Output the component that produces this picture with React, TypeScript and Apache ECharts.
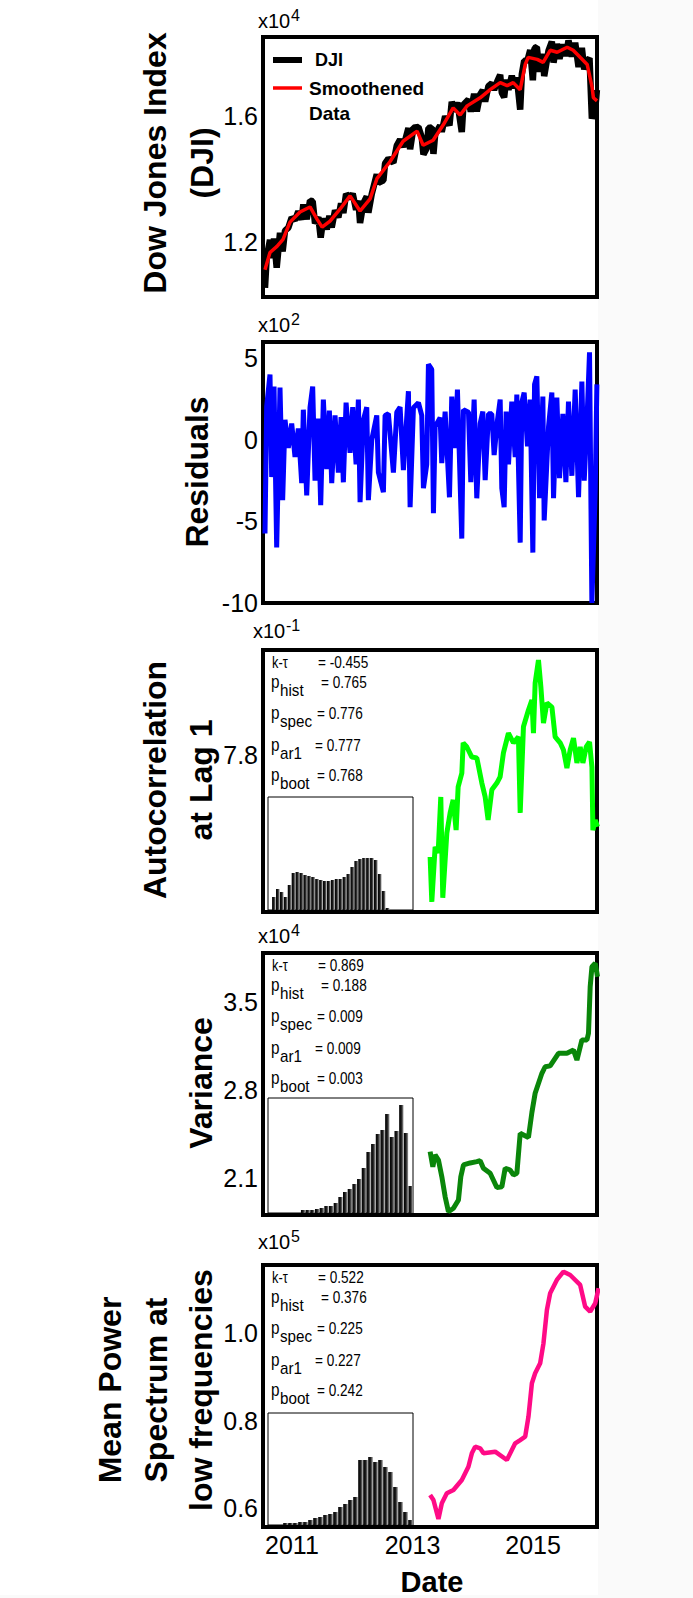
import React, { useEffect, useRef } from "react";
import * as echarts from "echarts";

const FONT = "'Liberation Sans', Arial, Helvetica, sans-serif";
const X_MIN = 2010.52;
const X_MAX = 2016.06;
const yearTicks = [2011, 2013, 2015];

// Panel 1 / 2: DJI, smoothed data and residuals (fractional years)
const dates = [2010.553, 2010.581, 2010.636, 2010.664, 2010.703, 2010.747, 2010.802, 2010.846, 2010.885, 2010.94, 2010.996, 2011.051, 2011.106, 2011.162, 2011.189, 2011.245, 2011.30, 2011.344, 2011.383, 2011.438, 2011.477, 2011.521, 2011.577, 2011.621, 2011.66, 2011.715, 2011.77, 2011.815, 2011.853, 2011.898, 2011.964, 2012.008, 2012.064, 2012.102, 2012.13, 2012.185, 2012.241, 2012.268, 2012.324, 2012.407, 2012.434, 2012.517, 2012.545, 2012.60, 2012.683, 2012.739, 2012.794, 2012.849, 2012.932, 2012.96, 2013.015, 2013.098, 2013.153, 2013.181, 2013.236, 2013.264, 2013.319, 2013.347, 2013.375, 2013.458, 2013.485, 2013.541, 2013.613, 2013.651, 2013.707, 2013.745, 2013.817, 2013.845, 2013.928, 2013.967, 2014.022, 2014.066, 2014.122, 2014.166, 2014.205, 2014.26, 2014.315, 2014.354, 2014.409, 2014.454, 2014.481, 2014.52, 2014.553, 2014.592, 2014.647, 2014.703, 2014.73, 2014.786, 2014.813, 2014.852, 2014.907, 2014.952, 2014.996, 2015.024, 2015.062, 2015.107, 2015.162, 2015.184, 2015.256, 2015.311, 2015.339, 2015.394, 2015.438, 2015.494, 2015.544, 2015.587, 2015.643, 2015.698, 2015.754, 2015.809, 2015.848, 2015.892, 2015.936, 2015.975, 2016.031, 2016.058];

const djiValues = [10560, 11520, 12080, 11500, 12120, 11200, 12300, 11710, 12370, 12460, 12790, 12700, 12980, 12720, 13200, 12730, 13320, 13300, 12600, 12800, 12150, 12760, 12410, 12840, 12470, 13010, 12790, 13230, 12930, 13530, 13390, 13545, 13030, 13320, 12610, 13240, 13450, 12940, 13530, 14150, 13880, 13960, 14500, 14650, 14520, 15060, 15250, 15020, 15620, 14950, 15630, 15650, 15325, 14780, 14980, 15620, 15640, 14800, 15410, 15700, 15500, 15990, 15700, 16445, 16140, 16430, 15495, 16355, 16520, 16140, 16700, 16150, 16680, 16820, 16460, 16950, 17030, 16830, 17115, 17300, 16735, 16590, 17150, 16830, 17270, 16885, 17220, 16200, 17320, 17750, 17760, 18090, 17130, 18150, 18180, 17400, 17965, 17260, 18070, 18355, 17690, 18280, 17815, 18265, 17900, 18390, 17880, 18320, 17550, 18160, 17475, 17745, 17830, 15920, 16230, 16825];

const residualValues = [-574, 204, 400, -228, 327, -660, 321, -370, 123, -50, 100, -105, 70, -265, 185, -340, 200, 327, -250, 130, -400, 247, -180, 180, -265, 150, -200, 140, -260, 228, -80, 200, -150, 247, -382, 123, 200, -370, 0, 150, -200, -321, 150, 160, -200, 170, 200, -185, 298, -413, 197, 228, 150, -296, -150, 463, 432, -450, 80, 136, -142, 173, -352, 265, -50, 308, -605, 185, 170, -259, 247, -358, 100, 173, -247, 160, 160, -93, 120, 247, -296, -413, 173, -150, 235, -105, 278, -630, 230, 290, -40, 247, -691, 340, 389, -358, 265, -494, 80, 290, -358, 259, -235, 160, -259, 235, -220, 308, -352, 358, -250, 100, 537, -1000, -300, 340];

const smoothYears = [2010.553, 2010.636, 2010.752, 2010.852, 2010.968, 2011.134, 2011.30, 2011.416, 2011.50, 2011.632, 2011.80, 2011.964, 2012.13, 2012.296, 2012.41, 2012.628, 2012.844, 2013.076, 2013.176, 2013.342, 2013.508, 2013.674, 2013.79, 2013.906, 2014.122, 2014.288, 2014.454, 2014.57, 2014.67, 2014.786, 2014.87, 2014.918, 2015.068, 2015.167, 2015.283, 2015.40, 2015.566, 2015.665, 2015.78, 2015.897, 2015.98, 2016.0, 2016.06];
const smoothValues = [11136, 11680, 11872, 12096, 12640, 12960, 13120, 12736, 12480, 12672, 13056, 13472, 12992, 13376, 14016, 14560, 15200, 15520, 15072, 15232, 15712, 16256, 16032, 16320, 16576, 16832, 17056, 16960, 17056, 16832, 17632, 17856, 17792, 17696, 18080, 18016, 18176, 18080, 17856, 17632, 16896, 16576, 16480];

// Panel 3: autocorrelation at lag 1
const acYears = [2013.292, 2013.32, 2013.375, 2013.425, 2013.469, 2013.502, 2013.569, 2013.624, 2013.674, 2013.723, 2013.757, 2013.818, 2013.84, 2013.901, 2013.984, 2014.067, 2014.15, 2014.205, 2014.254, 2014.316, 2014.399, 2014.453, 2014.508, 2014.591, 2014.674, 2014.757, 2014.786, 2014.84, 2014.923, 2014.98, 2015.006, 2015.034, 2015.089, 2015.129, 2015.172, 2015.229, 2015.312, 2015.366, 2015.449, 2015.504, 2015.561, 2015.615, 2015.67, 2015.727, 2015.781, 2015.826, 2015.881, 2015.936, 2015.976, 2015.992, 2016.031, 2016.069];
const acValues = [0.7557, 0.745, 0.7581, 0.7567, 0.770, 0.746, 0.7614, 0.7662, 0.7693, 0.7621, 0.7724, 0.7757, 0.7829, 0.7819, 0.7795, 0.7793, 0.7733, 0.770, 0.7645, 0.7717, 0.7733, 0.7748, 0.7805, 0.7852, 0.7829, 0.7843, 0.7662, 0.7867, 0.7907, 0.7931, 0.7852, 0.7971, 0.8026, 0.7962, 0.7876, 0.7924, 0.7914, 0.7843, 0.7829, 0.7812, 0.7769, 0.7812, 0.784, 0.7781, 0.7819, 0.7781, 0.7819, 0.7831, 0.7771, 0.7621, 0.7645, 0.7629];

// Panel 4: variance
const varYears = [2013.292, 2013.337, 2013.375, 2013.43, 2013.486, 2013.541, 2013.596, 2013.679, 2013.762, 2013.801, 2013.845, 2013.956, 2014.067, 2014.122, 2014.176, 2014.288, 2014.399, 2014.482, 2014.537, 2014.62, 2014.674, 2014.731, 2014.786, 2014.923, 2014.98, 2015.034, 2015.146, 2015.2, 2015.283, 2015.421, 2015.561, 2015.67, 2015.727, 2015.81, 2015.893, 2015.919, 2015.947, 2015.976, 2016.031, 2016.069];
const varValues = [23120, 21930, 22860, 22460, 21140, 19560, 18370, 18640, 19300, 21140, 22070, 22230, 22330, 22410, 21810, 21410, 20290, 20350, 21810, 21670, 21280, 21410, 24570, 24240, 26220, 27740, 29320, 29840, 29910, 30900, 30900, 31160, 30370, 31960, 31960, 32490, 36170, 37750, 38020, 36960];

// Panel 5: mean power spectrum at low frequencies
const psYears = [2013.292, 2013.347, 2013.43, 2013.486, 2013.569, 2013.679, 2013.818, 2013.927, 2013.984, 2014.039, 2014.122, 2014.177, 2014.371, 2014.565, 2014.703, 2014.786, 2014.869, 2014.923, 2014.98, 2015.034, 2015.117, 2015.172, 2015.229, 2015.283, 2015.394, 2015.504, 2015.615, 2015.781, 2015.864, 2015.947, 2016.031, 2016.086];
const psValues = [62970, 61830, 57480, 61070, 63360, 64110, 66400, 69440, 72500, 74010, 73640, 72500, 72870, 70970, 74790, 75540, 76300, 80870, 88500, 90790, 93080, 97650, 105260, 109080, 112120, 114020, 113260, 110980, 106010, 104870, 106790, 110220];

// Inset histograms (bin counts)
const acHist = [0, 13, 21, 18, 13, 25, 37, 38, 37, 35, 34, 33, 31, 30, 29, 29, 30, 31, 31, 33, 36, 43, 49, 51, 52, 52, 52, 50, 36, 19, 2, 0, 0, 0, 0, 0, 0];
const varHist = [0, 0, 0, 0, 0, 0, 0, 3, 3, 3, 4, 5, 7, 7, 10, 16, 21, 24, 29, 34, 45, 61, 69, 79, 83, 99, 76, 82, 108, 80, 27];
const psHist = [0, 0, 0, 2, 2, 2, 3, 3, 5, 7, 8, 10, 11, 13, 18, 21, 25, 28, 65, 65, 68, 63, 65, 58, 53, 38, 23, 13, 5];

// Statistics text
const statNames = ["hist", "spec", "ar1", "boot"];
const acStats = ["-0.455", "0.765", "0.776", "0.777", "0.768"];
const varStats = ["0.869", "0.188", "0.009", "0.009", "0.003"];
const psStats = ["0.522", "0.376", "0.225", "0.227", "0.242"];

const panels = [
  { top: 37, height: 260 },
  { top: 342, height: 261 },
  { top: 650, height: 262 },
  { top: 953, height: 262 },
  { top: 1265, height: 262 },
];
const insets = [
  { top: 797, height: 113, max: 113 },
  { top: 1098, height: 115, max: 115 },
  { top: 1413, height: 112, max: 112 },
];

const yConf = [
  { min: 10270, max: 18500, ticks: [12000, 16000], fmt: (v: number) => (v / 10000).toFixed(1) },
  { min: -1000, max: 600, ticks: [-1000, -500, 0, 500], fmt: (v: number) => String(Math.round(v / 100)) },
  { min: 0.7426, max: 0.805, ticks: [0.78], fmt: (v: number) => (v * 10).toFixed(1) },
  { min: 18110, max: 38840, ticks: [21000, 28000, 35000], fmt: (v: number) => (v / 10000).toFixed(1) },
  { min: 55660, max: 115540, ticks: [60000, 80000, 100000], fmt: (v: number) => (v / 100000).toFixed(1) },
];

const pairs = (xs: number[], ys: number[]) => xs.map((x, i) => [x, ys[i]]);

function txt(x: number, y: number, text: string, size: number, extra: any = {}, el: any = {}) {
  return {
    type: "text",
    x,
    y,
    z: 100,
    ...el,
    style: {
      text,
      fontSize: size,
      fontFamily: FONT,
      fill: "#000",
      textAlign: "left",
      textVerticalAlign: "middle",
      ...extra,
    },
  };
}

function statBlock(T: number, vals: string[]) {
  const sx = { scaleX: 0.8 };
  const eqX = [318, 321, 317, 315, 317];
  const offs = [12, 32, 63, 95, 125];
  const out: any[] = [];
  out.push(txt(272, T + offs[0], "k-τ", 16, {}, sx));
  out.push(txt(eqX[0], T + offs[0], "= " + vals[0], 17, {}, sx));
  for (let i = 0; i < 4; i++) {
    const y = T + offs[i + 1];
    out.push(txt(271, y, "p", 18, {}, { scaleX: 0.85 }));
    out.push(txt(280, y + 8, statNames[i], 16, {}, { scaleX: 0.95 }));
    out.push(txt(eqX[i + 1], y, "= " + vals[i + 1], 17, {}, sx));
  }
  return out;
}

function expLabel(x: number, y: number, exp: string) {
  return [txt(x, y, "x10", 20), txt(x + 33, y - 6, exp, 16)];
}

function title(x: number, y: number, text: string, lh: number) {
  return {
    type: "text",
    x,
    y,
    z: 100,
    rotation: Math.PI / 2,
    style: {
      text,
      fontSize: 32,
      fontWeight: "bold",
      fontFamily: FONT,
      fill: "#000",
      textAlign: "center",
      textVerticalAlign: "middle",
      lineHeight: lh,
    },
  };
}

function buildOption() {
  const grid: any[] = [];
  const xAxis: any[] = [];
  const yAxis: any[] = [];
  panels.forEach((p, i) => {
    grid.push({ left: 263, width: 334, top: p.top, height: p.height, show: true, borderColor: "#000", borderWidth: 4, backgroundColor: "#fff" });
    xAxis.push({
      type: "value",
      gridIndex: i,
      min: X_MIN,
      max: X_MAX,
      axisLine: { show: false },
      axisTick: { show: false },
      splitLine: { show: false },
      axisLabel:
        i === 4
          ? {
              show: true,
              customValues: yearTicks,
              formatter: (v: number) => (yearTicks.includes(Math.round(v * 1000) / 1000) ? String(Math.round(v)) : ""),
              fontSize: 25,
              fontFamily: FONT,
              color: "#000",
              margin: 5,
            }
          : { show: false },
    });
    const yc = yConf[i];
    yAxis.push({
      type: "value",
      gridIndex: i,
      min: yc.min,
      max: yc.max,
      axisLine: { show: false },
      axisTick: { show: false },
      splitLine: { show: false },
      axisLabel: {
        show: true,
        customValues: yc.ticks,
        formatter: (v: number) => (yc.ticks.some((t) => Math.abs(t - v) < 1e-9) ? yc.fmt(v) : ""),
        fontSize: 25,
        fontFamily: FONT,
        color: "#000",
        margin: 5,
      },
    });
  });
  const hists = [acHist, varHist, psHist];
  insets.forEach((p, k) => {
    const gi = 5 + k;
    grid.push({ left: 268, width: 145, top: p.top, height: p.height, show: true, borderColor: "#000", borderWidth: 1, backgroundColor: "#fff" });
    xAxis.push({ type: "category", gridIndex: gi, data: hists[k].map((_, j) => j), show: false });
    yAxis.push({ type: "value", gridIndex: gi, min: 0, max: p.max, show: false });
  });

  const barColor = new echarts.graphic.LinearGradient(0, 0, 1, 0, [
    { offset: 0, color: "#000" },
    { offset: 0.5, color: "#1c1c1c" },
    { offset: 1, color: "#9a9a9a" },
  ]);

  const lineBase = { type: "line", showSymbol: false, symbol: "none", smooth: false };
  const series: any[] = [
    { ...lineBase, name: "DJI", xAxisIndex: 0, yAxisIndex: 0, data: pairs(dates, djiValues), lineStyle: { color: "#000", width: 6.5 }, z: 2 },
    { ...lineBase, name: "Smoothened Data", xAxisIndex: 0, yAxisIndex: 0, data: pairs(smoothYears, smoothValues), lineStyle: { color: "#ff0000", width: 3.5 }, z: 3 },
    { ...lineBase, name: "Residuals", xAxisIndex: 1, yAxisIndex: 1, data: pairs(dates, residualValues), lineStyle: { color: "#0000ff", width: 5 } },
    { ...lineBase, name: "Autocorrelation", xAxisIndex: 2, yAxisIndex: 2, data: pairs(acYears, acValues), lineStyle: { color: "#00ff00", width: 5 } },
    { ...lineBase, name: "Variance", xAxisIndex: 3, yAxisIndex: 3, data: pairs(varYears, varValues), lineStyle: { color: "#0a860a", width: 5 } },
    { ...lineBase, name: "Power", xAxisIndex: 4, yAxisIndex: 4, data: pairs(psYears, psValues), lineStyle: { color: "#ff0a86", width: 4.5 } },
  ];
  hists.forEach((h, k) => {
    series.push({
      type: "bar",
      xAxisIndex: 5 + k,
      yAxisIndex: 5 + k,
      data: h,
      barCategoryGap: "8%",
      itemStyle: { color: barColor },
      z: 5,
    });
  });

  const graphic: any[] = [
    // y-axis titles
    title(178.5, 163, "Dow Jones Index\n(DJI)", 47),
    title(197, 472, "Residuals", 40),
    title(178, 780, "Autocorrelation\nat Lag 1", 46),
    title(201, 1083, "Variance", 40),
    title(155.5, 1390, "Mean Power\nSpectrum at\nlow frequencies", 45.5),
    // x-axis title
    txt(432, 1582, "Date", 29, { fontWeight: "bold", textAlign: "center" }),
    // exponents
    ...expLabel(258, 21, "4"),
    ...expLabel(258, 325, "2"),
    ...expLabel(253, 631, "-1"),
    ...expLabel(258, 936, "4"),
    ...expLabel(258, 1242, "5"),
    // legend
    { type: "line", z: 100, shape: { x1: 273, y1: 60, x2: 302, y2: 60 }, style: { stroke: "#000", lineWidth: 6 } },
    txt(315, 60, "DJI", 18, { fontWeight: "bold" }),
    { type: "line", z: 100, shape: { x1: 273, y1: 88, x2: 302, y2: 88 }, style: { stroke: "#ff0000", lineWidth: 3.5 } },
    txt(309, 88, "Smoothened", 19, { fontWeight: "bold" }),
    txt(309, 113, "Data", 19, { fontWeight: "bold" }),
    // statistics
    ...statBlock(650, acStats),
    ...statBlock(953, varStats),
    ...statBlock(1265, psStats),
  ];

  return { animation: false, grid, xAxis, yAxis, series, graphic };
}

export default function App() {
  const ref = useRef<HTMLDivElement>(null);
  useEffect(() => {
    if (!ref.current) return;
    const chart = echarts.init(ref.current, null, { renderer: "svg" });
    chart.setOption(buildOption() as any);
    return () => chart.dispose();
  }, []);
  return (
    <div style={{ position: "absolute", left: 0, top: 0, width: 693, height: 1598, background: "#fafafa" }}>
      <div style={{ position: "absolute", left: 0, top: 0, width: 598, height: 1595, background: "#fff" }} />
      <div ref={ref} style={{ position: "absolute", left: 0, top: 0, width: 693, height: 1598 }} />
    </div>
  );
}
